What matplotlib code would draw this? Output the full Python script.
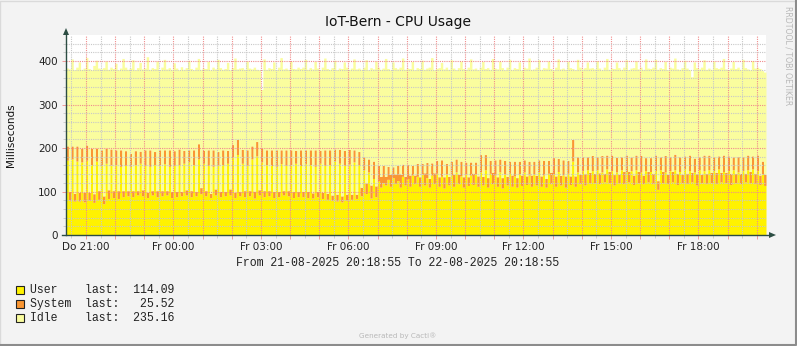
import numpy as np
import matplotlib
matplotlib.use("Agg")
import matplotlib.pyplot as plt
from matplotlib.lines import Line2D
from matplotlib.patches import Polygon, Rectangle

# 5-minute samples, Do 20:18:55 -> Fr 20:18:55 (288 steps)
user = [
    172, 80, 175, 78, 170, 78, 168, 76, 172, 80, 162, 75, 170, 82, 160, 72, 165, 84, 160, 86, 162, 84, 158, 88,
    160, 90, 158, 88, 162, 92, 165, 90, 160, 86, 158, 92, 162, 88, 160, 90, 164, 92, 158, 86, 160, 88, 162, 90,
    165, 92, 168, 88, 162, 90, 175, 95, 165, 90, 160, 86, 158, 92, 160, 88, 162, 90, 165, 92, 178, 86, 185, 90,
    165, 88, 160, 90, 175, 85, 182, 92, 168, 88, 162, 90, 160, 86, 158, 88, 164, 92, 160, 90, 162, 86, 165, 88,
    160, 88, 164, 86, 162, 85, 158, 88, 165, 84, 160, 82, 162, 80, 170, 78, 165, 76, 160, 80, 163, 82, 168, 84,
    162, 90, 150, 95, 145, 85, 130, 88, 125, 110, 120, 115, 128, 112, 132, 118, 125, 110, 135, 115, 130, 112, 138, 118,
    135, 112, 140, 115, 132, 110, 138, 118, 142, 112, 135, 108, 140, 115, 138, 112, 145, 118, 136, 110, 140, 114, 138, 116,
    140, 112, 145, 115, 150, 110, 142, 118, 138, 112, 145, 108, 140, 115, 142, 112, 136, 110, 140, 114, 145, 116, 138, 112,
    140, 115, 145, 112, 138, 110, 142, 118, 140, 112, 146, 115, 138, 110, 142, 116, 170, 112, 145, 118, 148, 115, 150, 120,
    148, 120, 150, 118, 145, 122, 152, 120, 148, 115, 145, 120, 150, 118, 146, 122, 148, 116, 150, 120, 145, 118, 148, 122,
    146, 118, 148, 105, 150, 120, 145, 118, 148, 122, 150, 116, 146, 120, 152, 118, 148, 122, 145, 115, 150, 120, 148, 118,
    150, 120, 148, 118, 152, 122, 146, 120, 148, 116, 150, 120, 145, 118, 148, 122, 150, 120, 152, 118, 148, 116, 140, 114.09,
]
system = [
    33, 20, 30, 18, 35, 20, 32, 22, 35, 18, 38, 20, 30, 20, 36, 18, 35, 20, 38, 16, 34, 18, 38, 14,
    34, 12, 30, 14, 32, 10, 28, 14, 36, 12, 38, 10, 30, 14, 36, 12, 32, 10, 38, 14, 34, 12, 36, 10,
    30, 12, 28, 14, 34, 10, 35, 14, 30, 12, 36, 10, 38, 14, 32, 12, 34, 10, 30, 14, 30, 12, 35, 10,
    32, 14, 36, 12, 30, 16, 33, 12, 32, 14, 34, 12, 36, 14, 38, 12, 32, 10, 36, 12, 34, 14, 30, 12,
    36, 12, 32, 14, 34, 12, 38, 12, 30, 14, 36, 14, 34, 12, 28, 16, 32, 14, 35, 14, 34, 12, 28, 10,
    30, 20, 30, 25, 30, 30, 40, 25, 35, 25, 40, 20, 30, 28, 25, 22, 35, 30, 28, 20, 32, 26, 22, 20,
    30, 22, 25, 28, 35, 20, 28, 25, 30, 22, 38, 26, 25, 20, 32, 28, 30, 22, 34, 24, 28, 20, 30, 26,
    28, 24, 40, 20, 35, 22, 30, 26, 35, 22, 30, 24, 32, 20, 28, 26, 34, 22, 30, 24, 28, 20, 32, 26,
    30, 22, 28, 24, 34, 20, 30, 26, 38, 24, 30, 22, 35, 26, 30, 20, 50, 24, 35, 22, 32, 26, 30, 24,
    35, 22, 30, 25, 38, 20, 32, 26, 36, 24, 34, 20, 30, 28, 38, 24, 32, 22, 34, 26, 38, 20, 30, 24,
    32, 24, 36, 20, 30, 26, 38, 22, 32, 24, 36, 26, 34, 20, 30, 24, 36, 22, 32, 26, 30, 20, 36, 24,
    34, 24, 32, 26, 30, 22, 38, 24, 34, 26, 30, 22, 36, 24, 32, 20, 34, 26, 30, 24, 36, 22, 30, 25.52,
]
idle = [
    179, 282, 200, 284, 181, 300, 181, 286, 201, 285, 180, 295, 202, 282, 186, 295, 200, 277, 188, 281, 199, 278, 188, 304,
    192, 279, 196, 301, 186, 283, 204, 278, 188, 312, 185, 283, 191, 298, 184, 284, 208, 280, 189, 281, 202, 284, 182, 287,
    186, 281, 206, 281, 184, 286, 196, 272, 189, 281, 203, 284, 190, 276, 212, 285, 185, 283, 202, 274, 177, 309, 162, 284,
    188, 279, 204, 282, 177, 285, 166, 276, 135, 303, 185, 283, 187, 298, 184, 286, 212, 280, 188, 279, 204, 283, 187, 286,
    187, 286, 208, 281, 189, 285, 203, 284, 185, 288, 211, 287, 185, 293, 204, 286, 187, 293, 203, 292, 184, 290, 209, 288,
    192, 271, 206, 283, 205, 270, 212, 287, 226, 246, 224, 271, 225, 240, 241, 245, 222, 246, 244, 246, 222, 245, 239, 242,
    220, 249, 237, 238, 217, 256, 242, 237, 211, 251, 224, 248, 221, 246, 233, 244, 205, 245, 230, 249, 213, 252, 237, 240,
    216, 244, 201, 264, 198, 253, 209, 262, 211, 248, 225, 253, 208, 251, 234, 243, 215, 251, 228, 242, 213, 248, 237, 243,
    212, 249, 230, 245, 213, 254, 228, 239, 202, 250, 229, 245, 211, 245, 227, 249, 163, 244, 224, 246, 202, 244, 218, 240,
    202, 240, 221, 241, 197, 244, 222, 235, 200, 244, 219, 245, 201, 240, 219, 234, 204, 247, 216, 236, 203, 243, 227, 238,
    205, 244, 220, 256, 205, 237, 216, 240, 206, 238, 221, 240, 201, 245, 220, 242, 196, 220, 221, 244, 202, 246, 219, 239,
    200, 237, 220, 241, 201, 242, 222, 238, 198, 242, 219, 241, 205, 239, 224, 243, 198, 234, 219, 242, 202, 245, 208, 235.16,
]

tick_hours = [21, 24, 27, 30, 33, 36, 39, 42]
tick_labels = ["Do 21:00", "Fr 00:00", "Fr 03:00", "Fr 06:00",
               "Fr 09:00", "Fr 12:00", "Fr 15:00", "Fr 18:00"]
legend_rows = [("User", "114.09", "#FFF200"),
               ("System", "25.52", "#FA9632"),
               ("Idle", "235.16", "#FAFD9E")]

W, H = 797, 346
fig = plt.figure(figsize=(W / 100, H / 100), dpi=100)
fig.patch.set_facecolor("#F3F3F3")


def fp(x, y):
    # pixel (top-left origin) -> figure fraction
    return x / W, 1 - y / H


ax = fig.add_axes([66 / W, 1 - 235 / H, 700 / W, 200 / H])
ax.set_facecolor("white")

start = 20 + 18 / 60 + 55 / 3600
n = len(user)
x = start + np.arange(n + 1) * 5 / 60
u = np.array(user + [user[-1]])
s = np.array(system + [system[-1]])
i = np.array(idle + [idle[-1]])

ax.fill_between(x, 0, u, step="post", color=legend_rows[0][2], lw=0, zorder=1)
ax.fill_between(x, u, u + s, step="post", color=legend_rows[1][2], lw=0, zorder=1)
ax.fill_between(x, u + s, u + s + i, step="post", color=legend_rows[2][2], lw=0, zorder=1)

ax.set_xlim(start, start + 24)
ax.set_ylim(0, 460)

# grid drawn over the areas, rrdtool style
hours = np.arange(21, 45)
halfs = np.arange(20.5, 44.5, 1.0)
ax.set_xticks(hours)
ax.set_xticklabels([tick_labels[tick_hours.index(h)] if h in tick_hours else "" for h in hours])
ax.set_xticks(halfs, minor=True)
ax.set_yticks([0, 100, 200, 300, 400])
ax.set_yticks(np.arange(20, 460, 20), minor=True)
ax.grid(True, which="minor", color="#C8C8C8", lw=0.8, ls=(0, (1, 1)), zorder=3)
ax.grid(True, which="major", color="#F08C8C", lw=0.8, ls=(0, (1, 1)), zorder=3)
ax.set_axisbelow(False)
ax.tick_params(axis="both", which="both", labelsize=7.5, colors="#222222", length=3, width=0.6)
ax.tick_params(axis="x", which="major", color="#F08C8C", pad=2)
ax.tick_params(axis="x", which="minor", color="#C8C8C8", length=2)
ax.tick_params(axis="y", which="minor", color="#C8C8C8", length=2)
ax.tick_params(axis="y", which="major", color="#F08C8C", pad=3)
for sp in ax.spines.values():
    sp.set_visible(False)

# axes with arrows
axis_col = "#2C4D43"
fig.add_artist(Line2D(*zip(fp(66, 235), fp(66, 33)), color=axis_col, lw=1))
fig.add_artist(Line2D(*zip(fp(62, 235), fp(770, 235)), color=axis_col, lw=1))
fig.add_artist(Polygon([fp(63, 35), fp(69, 35), fp(66, 28)], closed=True, color=axis_col, lw=0))
fig.add_artist(Polygon([fp(769, 232), fp(769, 238), fp(776, 235)], closed=True, color=axis_col, lw=0))

fig.text(*fp(398, 22), "IoT-Bern - CPU Usage", ha="center", va="center", fontsize=10, color="#111111")
fig.text(*fp(11, 135), "Milliseconds", ha="center", va="center", rotation=90, fontsize=7.5, color="#111111")
fig.text(*fp(398, 263), "From 21-08-2025 20:18:55 To 22-08-2025 20:18:55", ha="center", va="center",
         family="Liberation Mono", fontsize=8.3, color="#222222")

for k, (name, last, col) in enumerate(legend_rows):
    y = 290 + 14 * k
    fig.add_artist(Rectangle(fp(16, y + 4), 8 / W, 8 / H, facecolor=col, edgecolor="#222222", lw=0.8))
    fig.text(*fp(30, y), "%-8slast:%8s" % (name, last), ha="left", va="center",
             family="Liberation Mono", fontsize=8.3, color="#222222")

fig.text(*fp(398, 336), "Generated by Cacti\u00ae", ha="center", va="center", fontsize=5.2, color="#B8B8B8")
fig.text(*fp(788, 56), "RRDTOOL / TOBI OETIKER", ha="center", va="center", rotation=270,
         fontsize=5.6, color="#B8B8B8")

# image frame
fig.add_artist(Line2D([0.0005, 0.0005, 0.9995], [0.0015, 0.9985, 0.9985], color="#DADADA", lw=1))
fig.add_artist(Line2D([0.0005, 0.9985, 0.9985], [0.003, 0.003, 0.9985], color="#8C8C8C", lw=1.5))

fig.savefig("out.png", dpi=100, facecolor=fig.get_facecolor())
